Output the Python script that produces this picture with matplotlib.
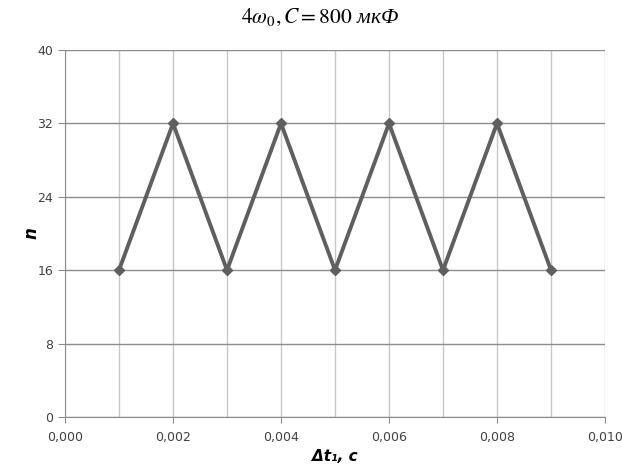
import matplotlib
matplotlib.use("Agg")
import matplotlib.pyplot as plt
from matplotlib.ticker import MultipleLocator, FuncFormatter

# data
DT = [0.001, 0.002, 0.003, 0.004, 0.005, 0.006, 0.007, 0.008, 0.009]
N = [16, 32, 16, 32, 16, 32, 16, 32, 16]

plt.rcParams["mathtext.fontset"] = "stix"

fig = plt.figure(figsize=(6.22, 4.70), dpi=100)
ax = fig.add_axes([0.1045, 0.1128, 0.8682, 0.7809])

ax.plot(DT, N, color="#5f5f5f", lw=2.8, marker="D", markersize=5,
        markerfacecolor="#5f5f5f", markeredgecolor="#5f5f5f", zorder=3)

ax.set_xlim(0, 0.010)
ax.set_ylim(0, 40)
ax.xaxis.set_major_locator(MultipleLocator(0.002))
ax.xaxis.set_minor_locator(MultipleLocator(0.001))
ax.yaxis.set_major_locator(MultipleLocator(8))
ax.xaxis.set_major_formatter(FuncFormatter(lambda v, p: f"{v:.3f}".replace(".", ",")))

ax.grid(True, axis="x", which="both", color="#c8c8c8", lw=1)
ax.grid(True, axis="y", which="major", color="#8c8c8c", lw=1)
ax.set_axisbelow(True)

ax.spines["top"].set_visible(False)
ax.spines["right"].set_visible(False)
for s in ["left", "bottom"]:
    ax.spines[s].set_color("#8c8c8c")

ax.tick_params(axis="both", which="major", colors="#8c8c8c", labelcolor="#404040",
               labelsize=9, length=5)
ax.tick_params(axis="x", which="minor", length=0)
ax.tick_params(axis="x", which="major", length=4, pad=6)

ax.set_xlabel("Δt₁, c", fontsize=11, fontweight="bold", fontstyle="italic", labelpad=4)
ax.set_ylabel("n", fontsize=12, fontweight="bold", fontstyle="italic")
ax.yaxis.set_label_coords(-0.045, 0.5)

fig.text(0.515, 0.962, r"$4\omega_0, C = 800$ мкФ", ha="center", va="center",
         fontsize=15.5, family="Liberation Serif", style="italic")

fig.savefig("out.png", dpi=100, facecolor="white")
